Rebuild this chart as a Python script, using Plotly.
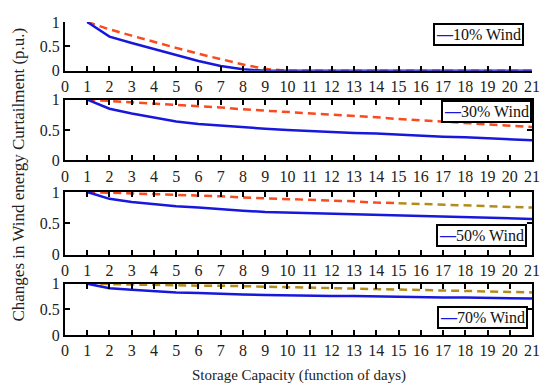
import plotly.graph_objects as go

days = list(range(1, 22))
x_ticks = list(range(0, 22))
y_ticks = [0, 0.5, 1]
y_tick_labels = ["0", "0.5", "1"]

panel_labels = ["10% Wind", "30% Wind", "50% Wind", "70% Wind"]

wind10_solid = [1.00, 0.70, 0.57, 0.45, 0.32, 0.20, 0.10, 0.03, 0.00, 0.00, 0.00,
                0.00, 0.00, 0.00, 0.00, 0.00, 0.00, 0.00, 0.00, 0.00, 0.00]
wind10_dash = [1.00, 0.85, 0.72, 0.59, 0.47, 0.35, 0.24, 0.13, 0.04, 0.00, 0.00,
               0.00, 0.00, 0.00, 0.00, 0.00, 0.00, 0.00, 0.00, 0.00, 0.00]

wind30_solid = [1.00, 0.85, 0.77, 0.70, 0.64, 0.60, 0.57, 0.54, 0.52, 0.50, 0.48,
                0.47, 0.45, 0.44, 0.42, 0.41, 0.39, 0.38, 0.36, 0.35, 0.33]
wind30_dash = [1.00, 0.98, 0.96, 0.93, 0.91, 0.89, 0.87, 0.84, 0.82, 0.80, 0.78,
               0.75, 0.73, 0.71, 0.68, 0.66, 0.64, 0.61, 0.59, 0.57, 0.55]

wind50_solid = [1.00, 0.89, 0.84, 0.80, 0.77, 0.75, 0.72, 0.70, 0.68, 0.67, 0.66,
                0.65, 0.64, 0.63, 0.62, 0.61, 0.60, 0.60, 0.59, 0.58, 0.57]
wind50_dash = [1.00, 0.99, 0.97, 0.96, 0.95, 0.94, 0.93, 0.91, 0.90, 0.89, 0.88,
               0.86, 0.85, 0.83, 0.82, 0.81, 0.79, 0.78, 0.77, 0.76, 0.75]

wind70_solid = [1.00, 0.91, 0.88, 0.85, 0.83, 0.82, 0.80, 0.79, 0.78, 0.77, 0.77,
                0.76, 0.76, 0.75, 0.74, 0.74, 0.73, 0.73, 0.72, 0.72, 0.71]
wind70_dash = [1.00, 0.99, 0.99, 0.98, 0.97, 0.96, 0.96, 0.95, 0.94, 0.93, 0.92,
               0.91, 0.90, 0.90, 0.89, 0.88, 0.87, 0.86, 0.85, 0.84, 0.83]

BLUE = "#1818dc"
RED = "#fa4a1e"
OLIVE = "#b48c1e"
FONT = "Liberation Serif, Times New Roman, serif"

# (solid, dash, index where dash turns olive, legend-box position)
panels = [
    (wind10_solid, wind10_dash, None, (0.983, 0.997)),
    (wind30_solid, wind30_dash, None, (1.0, 0.751)),
    (wind50_solid, wind50_dash, 14, (0.989, 0.355)),
    (wind70_solid, wind70_dash, 0, (0.991, 0.093)),
]
domains = [(0.844, 1.0), (0.558, 0.752), (0.257, 0.457), (0.0, 0.164)]

fig = go.Figure()
for i, (solid, dash, split, _) in enumerate(panels):
    sfx = "" if i == 0 else str(i + 1)
    xa, ya = "x" + sfx, "y" + sfx
    if split is None:
        fig.add_trace(go.Scatter(x=days, y=dash, mode="lines", xaxis=xa, yaxis=ya,
                                 line=dict(color=RED, width=2.5, dash="8px,5px"),
                                 showlegend=False, hoverinfo="skip"))
    else:
        if split > 0:
            fig.add_trace(go.Scatter(x=days[:split + 1], y=dash[:split + 1], mode="lines",
                                     xaxis=xa, yaxis=ya,
                                     line=dict(color=RED, width=2.5, dash="8px,5px"),
                                     showlegend=False, hoverinfo="skip"))
        fig.add_trace(go.Scatter(x=days[split:], y=dash[split:], mode="lines",
                                 xaxis=xa, yaxis=ya,
                                 line=dict(color=OLIVE, width=2.5, dash="8px,5px"),
                                 showlegend=False, hoverinfo="skip"))
    fig.add_trace(go.Scatter(x=days, y=solid, mode="lines", xaxis=xa, yaxis=ya,
                             line=dict(color=BLUE, width=2.5),
                             name=panel_labels[i], showlegend=False))

layout = dict(
    width=550, height=390,
    margin=dict(l=57, r=26, t=6, b=63),
    paper_bgcolor="white", plot_bgcolor="white",
    font=dict(family=FONT, size=16, color="#222"),
    showlegend=False,
)
for i in range(4):
    sfx = "" if i == 0 else str(i + 1)
    boxed = i > 0
    axis_common = dict(
        showline=True, linecolor="black", linewidth=2,
        ticks="inside", ticklen=5, tickwidth=2, tickcolor="black",
        mirror="ticks" if boxed else False, showgrid=False, zeroline=False,
        tickfont=dict(family=FONT, size=16, color="#222"),
    )
    layout["xaxis" + sfx] = dict(axis_common, domain=[0, 1], range=[0, 21],
                                 tickvals=x_ticks, anchor="y" + sfx)
    layout["yaxis" + sfx] = dict(axis_common, domain=list(domains[i]), range=[0, 1],
                                 tickvals=y_ticks, ticktext=y_tick_labels,
                                 anchor="x" + sfx)

fig.update_layout(**layout)

for i, label in enumerate(panel_labels):
    lx, ly = panels[i][3]
    fig.add_annotation(
        text=f"<span style='color:{BLUE}'><b>\u2014</b></span>{label}",
        xref="paper", yref="paper", x=lx, y=ly, xanchor="right", yanchor="top",
        showarrow=False, bgcolor="white", bordercolor="black", borderwidth=2,
        borderpad=1, font=dict(family=FONT, size=16, color="#111"),
    )

fig.add_annotation(text="Changes in Wind energy Curtailment (p.u.)", textangle=-90,
                   xref="paper", yref="paper", x=-0.099, y=0.512, xanchor="center",
                   yanchor="middle", showarrow=False,
                   font=dict(family=FONT, size=17, color="#222"))
fig.add_annotation(text="Storage Capacity (function of days)",
                   xref="paper", yref="paper", x=0.5, y=-0.128, xanchor="center",
                   yanchor="middle", showarrow=False,
                   font=dict(family=FONT, size=15, color="#222"))

fig.write_html("out.html")
